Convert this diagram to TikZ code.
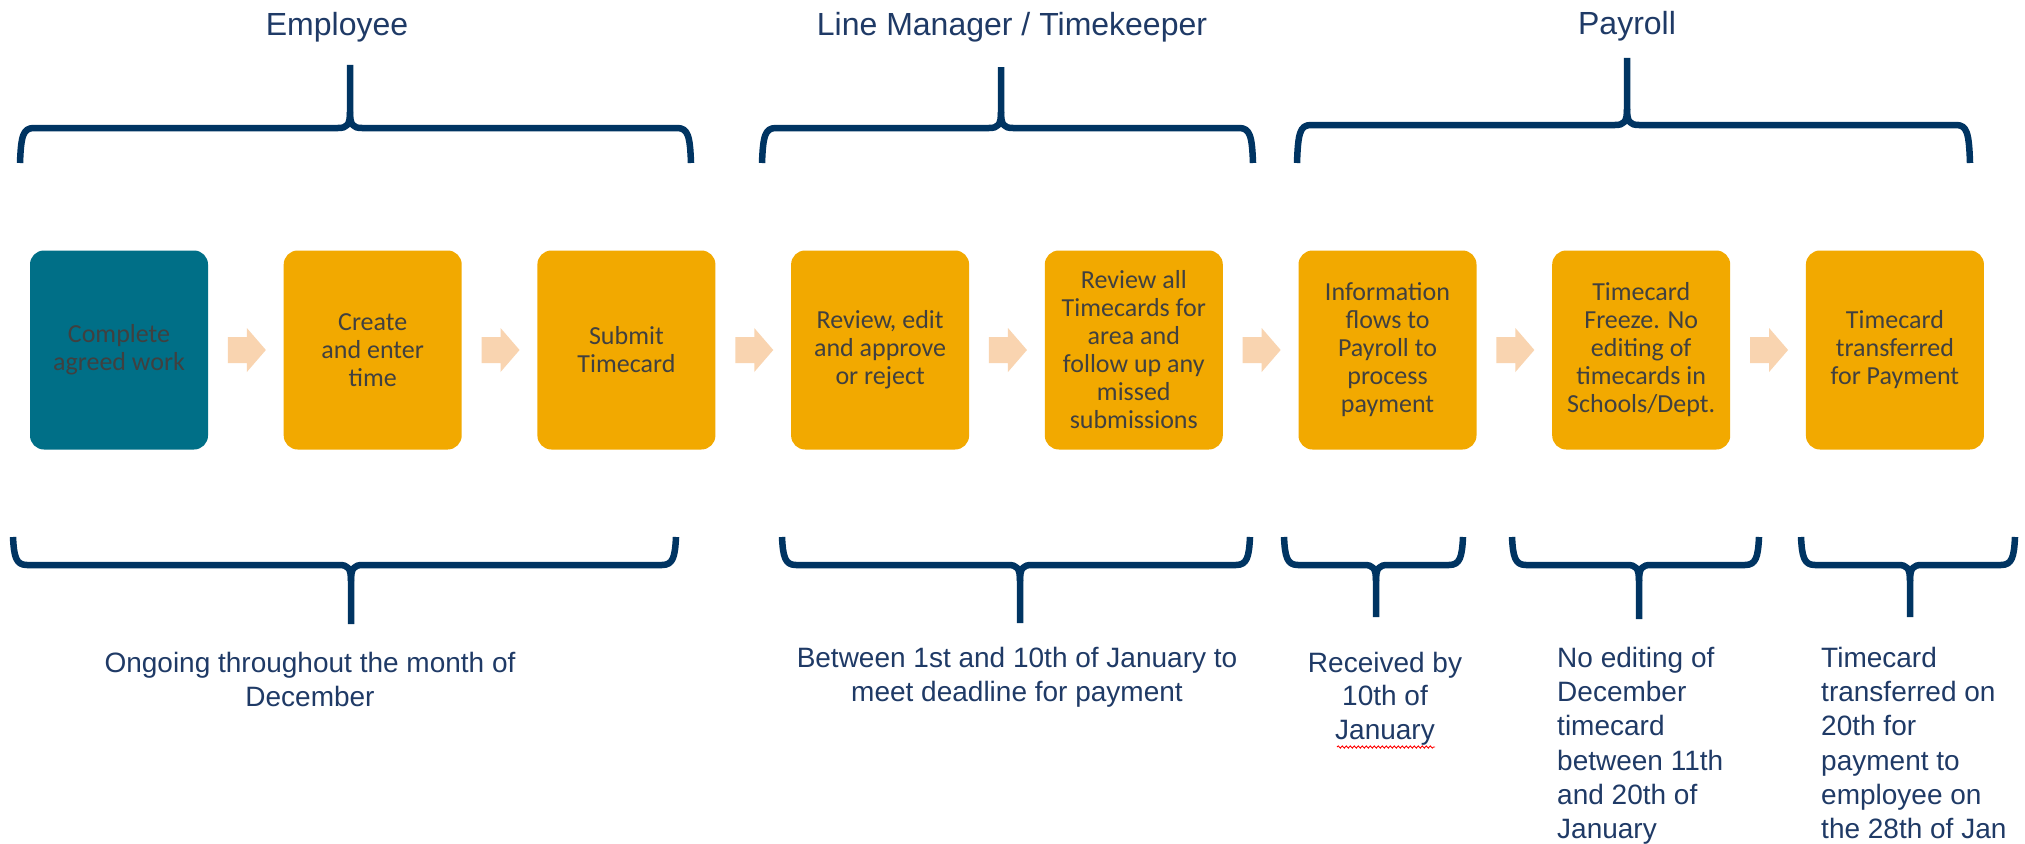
\documentclass[tikz,border=0pt]{standalone}
\usepackage{fontspec}
\setmainfont{Liberation Sans}
\newfontfamily\calib{Carlito}
\usetikzlibrary{calc,decorations.pathmorphing}
\definecolor{teal1}{RGB}{0,111,135}
\definecolor{gold1}{RGB}{242,169,0}
\definecolor{peach1}{RGB}{249,212,176}
\definecolor{navy1}{RGB}{0,52,98}
\definecolor{txtblue}{RGB}{31,58,102}
\definecolor{boxtxt}{RGB}{64,64,64}
\newcommand\mybrace[6]{%
 \pgfmathsetmacro\bs{(#5>#4)?1:-1}%
 \draw[brk] (#1,#5) .. controls ({#1+1},{#4+\bs*8}) and ({#1+3},#4) .. ({#1+14},#4) -- ({#3-12},#4) .. controls ({#3-3},#4) and (#3,{#4-\bs*3}) .. (#3,{#4-\bs*16}) -- (#3,#6);
 \draw[brk] (#2,#5) .. controls ({#2-1},{#4+\bs*8}) and ({#2-3},#4) .. ({#2-14},#4) -- ({#3+12},#4) .. controls ({#3+3},#4) and (#3,{#4-\bs*3}) .. (#3,{#4-\bs*16});
}
\newcommand\blockarrow[1]{%
 \fill[peach1] ($(#1)+(-18,-13)$) -- ($(#1)+(1,-13)$) -- ($(#1)+(1,-22)$) -- ($(#1)+(20,0)$) -- ($(#1)+(1,22)$) -- ($(#1)+(1,13)$) -- ($(#1)+(-18,13)$) -- cycle;
}
\begin{document}
\begin{tikzpicture}[x=1pt,y=-1pt,
 stepbox/.style={rounded corners=14pt, minimum width=178pt, minimum height=199pt, inner sep=0pt, align=center, font=\calib\fontsize{26}{28}\selectfont, text=boxtxt, fill=gold1},
 brk/.style={draw=navy1, line width=6.5pt, line join=round},
 title/.style={font=\fontsize{32}{38}\selectfont, text=txtblue, inner sep=0pt},
 note/.style={font=\fontsize{28}{34}\selectfont, text=txtblue, inner sep=0pt}]
\useasboundingbox (0,0) rectangle (2025,843);
\fill[white] (0,0) rectangle (2025,843);

% titles
\node[title, anchor=base] (t1) at (337,36) {Employee};
\node[title, anchor=base] (t2) at (1012,36) {Line Manager / Timekeeper};
\node[title, anchor=base] (t3) at (1627,35) {Payroll};

% top brackets
\mybrace{20}{691}{350}{128}{163}{65}
\mybrace{762}{1253}{1001}{128}{163}{67}
\mybrace{1297}{1970}{1627}{125}{163}{58}

% boxes
\node[stepbox, fill=teal1] (b1) at (119,350) {Complete\\agreed work};
\node[stepbox] (b2) at (372.7,350) {Create\\and enter\\time};
\node[stepbox] (b3) at (626.4,350) {Submit\\Timecard};
\node[stepbox] (b4) at (880.1,350) {Review, edit\\and approve\\or reject};
\node[stepbox] (b5) at (1133.8,350) {Review all\\Timecards for\\area and\\follow up any\\missed\\submissions};
\node[stepbox] (b6) at (1387.5,350) {Information\\flows to\\Payroll to\\process\\payment};
\node[stepbox] (b7) at (1641.2,350) {Timecard\\Freeze. No\\editing of\\timecards in\\Schools/Dept.};
\node[stepbox] (b8) at (1894.9,350) {Timecard\\transferred\\for Payment};

% arrows
\foreach \p/\q [count=\i] in {b1/b2,b2/b3,b3/b4,b4/b5,b5/b6,b6/b7,b7/b8}{
  \coordinate (a\i) at ($(\p.east)!0.5!(\q.west)$);
  \blockarrow{a\i}
}

% bottom brackets
\mybrace{13}{676}{351}{565}{537}{624}
\mybrace{782}{1250}{1020}{565}{537}{623}
\mybrace{1284}{1463}{1376}{565}{537}{617}
\mybrace{1512}{1759}{1639}{565}{537}{619}
\mybrace{1801}{2015}{1910}{565}{537}{617}

% notes
\node[note, anchor=north, align=center] (n1) at (310,652) {Ongoing throughout the month of\\December};
\node[note, anchor=north, align=center] (n2) at (1017,647) {Between 1st and 10th of January to\\meet deadline for payment};
\node[note, anchor=north, align=center, font=\fontsize{28}{33.5}\selectfont] (n3) at (1385,652) {Received by\\10th of\\January};
\node[note, anchor=north west, align=left, font=\fontsize{28}{34.2}\selectfont] (n4) at (1557,647) {No editing of\\December\\timecard\\between 11th\\and 20th of\\January};
\node[note, anchor=north west, align=left, font=\fontsize{28}{34.2}\selectfont] (n5) at (1821,647) {Timecard\\transferred on\\20th for\\payment to\\employee on\\the 28th of Jan};

% spell-check underline
\draw[red, line width=0.9pt, decorate, decoration={snake, amplitude=1.1pt, segment length=4pt}] (1337,747) -- (1435,747);
\end{tikzpicture}
\end{document}
